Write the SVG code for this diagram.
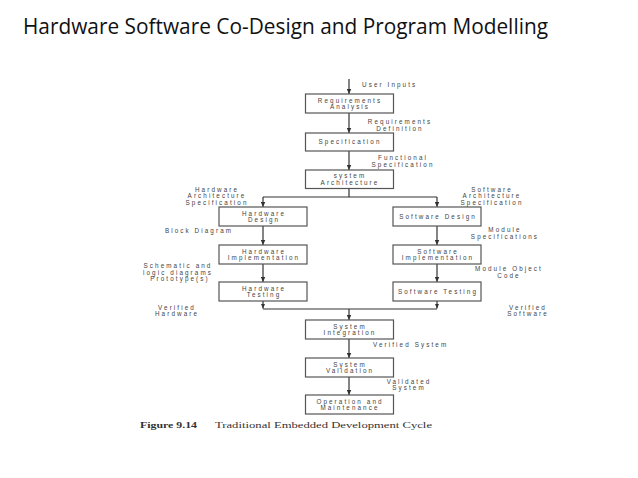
<svg xmlns="http://www.w3.org/2000/svg" width="638" height="478" viewBox="0 0 638 478">
  <style>
    .title { font-family: "Open Sans", "Liberation Sans", sans-serif; font-size: 22px; fill: #111; }
    .box { fill: #fff; stroke: #555; stroke-width: 1.2; }
    .t { font-family: "Liberation Sans", Arial, sans-serif; font-size: 6.3px; letter-spacing: 2.1px; fill: #444; text-anchor: middle; }
    .ts { font-family: "Liberation Sans", Arial, sans-serif; font-size: 6.3px; letter-spacing: 2.1px; fill: #444; text-anchor: start; }
    .cap { font-family: "Liberation Serif", "Times New Roman", serif; font-size: 8.5px; fill: #333; }
    .conn { fill: none; stroke: #333; stroke-width: 1.2; }
  </style>
  <defs>
    <marker id="arr" viewBox="0 0 10 10" refX="10" refY="5" markerWidth="5" markerHeight="5" markerUnits="userSpaceOnUse" orient="auto">
      <path d="M0,0.5 L10,5 L0,9.5 z" fill="#333"/>
    </marker>
  </defs>
  <rect width="638" height="478" fill="#fff"/>
  <text class="title" x="23" y="34" textLength="525" lengthAdjust="spacingAndGlyphs">Hardware Software Co-Design and Program Modelling</text>

  <g id="connectors">
    <path class="conn" d="M349,79 V94" marker-end="url(#arr)"/>
    <path class="conn" d="M349,113 V133" marker-end="url(#arr)"/>
    <path class="conn" d="M349,151 V170" marker-end="url(#arr)"/>
    <path class="conn" d="M349,188.5 V197 M263,197 H437"/>
    <path class="conn" d="M263,197 V207" marker-end="url(#arr)"/>
    <path class="conn" d="M437,197 V207" marker-end="url(#arr)"/>
    <path class="conn" d="M263,226 V245" marker-end="url(#arr)"/>
    <path class="conn" d="M263,264 V282" marker-end="url(#arr)"/>
    <path class="conn" d="M437,226 V245" marker-end="url(#arr)"/>
    <path class="conn" d="M437,264 V282" marker-end="url(#arr)"/>
    <path class="conn" d="M263,301 V308.5" marker-end="url(#arr)"/>
    <path class="conn" d="M437,301 V308.5" marker-end="url(#arr)"/>
    <path class="conn" d="M263,309 H437"/>
    <path class="conn" d="M349,309 V320" marker-end="url(#arr)"/>
    <path class="conn" d="M349,339 V358" marker-end="url(#arr)"/>
    <path class="conn" d="M349,377 V395" marker-end="url(#arr)"/>
  </g>

  <g id="labels">
    <text class="ts" x="362" y="87">User Inputs</text>
    <text class="t" x="400" y="124.1">Requirements</text>
    <text class="t" x="400" y="130.6">Definition</text>
    <text class="t" x="403" y="160.3">Functional</text>
    <text class="t" x="403" y="166.8">Specification</text>
    <text class="t" x="217" y="191.5">Hardware</text>
    <text class="t" x="217" y="198">Architecture</text>
    <text class="t" x="217" y="204.5">Specification</text>
    <text class="t" x="492" y="191.5">Software</text>
    <text class="t" x="492" y="198">Architecture</text>
    <text class="t" x="492" y="204.5">Specification</text>
    <text class="t" x="199" y="233.3">Block Diagram</text>
    <text class="t" x="505" y="232.1">Module</text>
    <text class="t" x="505" y="238.6">Specifications</text>
    <text class="t" x="178" y="268">Schematic and</text>
    <text class="t" x="178" y="274.5">logic diagrams</text>
    <text class="t" x="180" y="281">Prototype(s)</text>
    <text class="t" x="509" y="271.4">Module Object</text>
    <text class="t" x="509" y="277.9">Code</text>
    <text class="t" x="177" y="309.6">Verified</text>
    <text class="t" x="177" y="316.1">Hardware</text>
    <text class="t" x="528" y="309.6">Verified</text>
    <text class="t" x="528" y="316.1">Software</text>
    <text class="ts" x="373" y="346.6">Verified System</text>
    <text class="t" x="409" y="383.8">Validated</text>
    <text class="t" x="409" y="390.3">System</text>
  </g>

  <g id="req-analysis">
    <rect class="box" x="305.5" y="94" width="88" height="19"/>
    <text class="t" x="350" y="102.5">Requirements</text>
    <text class="t" x="350" y="109">Analysis</text>
  </g>
  <g id="specification">
    <rect class="box" x="305.5" y="133" width="88" height="18"/>
    <text class="t" x="350" y="144.3">Specification</text>
  </g>
  <g id="system-architecture">
    <rect class="box" x="305.5" y="170" width="88" height="18.5"/>
    <text class="t" x="350" y="178.3">system</text>
    <text class="t" x="350" y="184.8">Architecture</text>
  </g>
  <g id="hardware-design">
    <rect class="box" x="219" y="207" width="88" height="19"/>
    <text class="t" x="264" y="215.5">Hardware</text>
    <text class="t" x="264" y="222">Design</text>
  </g>
  <g id="software-design">
    <rect class="box" x="393" y="207" width="88" height="19"/>
    <text class="t" x="438" y="218.8">Software Design</text>
  </g>
  <g id="hardware-implementation">
    <rect class="box" x="219" y="245" width="88" height="19"/>
    <text class="t" x="264" y="253.5">Hardware</text>
    <text class="t" x="264" y="260">Implementation</text>
  </g>
  <g id="software-implementation">
    <rect class="box" x="393" y="245" width="88" height="19"/>
    <text class="t" x="438" y="253.5">Software</text>
    <text class="t" x="438" y="260">Implementation</text>
  </g>
  <g id="hardware-testing">
    <rect class="box" x="219" y="282" width="88" height="19"/>
    <text class="t" x="264" y="290.5">Hardware</text>
    <text class="t" x="264" y="297">Testing</text>
  </g>
  <g id="software-testing">
    <rect class="box" x="393" y="282" width="88" height="19"/>
    <text class="t" x="438" y="293.8">Software Testing</text>
  </g>
  <g id="system-integration">
    <rect class="box" x="305.5" y="320" width="88" height="19"/>
    <text class="t" x="350" y="328.5">System</text>
    <text class="t" x="350" y="335">Integration</text>
  </g>
  <g id="system-validation">
    <rect class="box" x="305.5" y="358" width="88" height="19"/>
    <text class="t" x="350" y="366.5">System</text>
    <text class="t" x="350" y="373">Validation</text>
  </g>
  <g id="operation-maintenance">
    <rect class="box" x="305.5" y="395" width="88" height="19"/>
    <text class="t" x="350" y="403.5">Operation and</text>
    <text class="t" x="350" y="410">Maintenance</text>
  </g>

  <g id="caption">
    <text class="cap" x="140" y="428" font-weight="bold" textLength="57" lengthAdjust="spacingAndGlyphs">Figure 9.14</text>
    <text class="cap" x="215" y="428" textLength="217" lengthAdjust="spacingAndGlyphs">Traditional Embedded Development Cycle</text>
  </g>
</svg>
